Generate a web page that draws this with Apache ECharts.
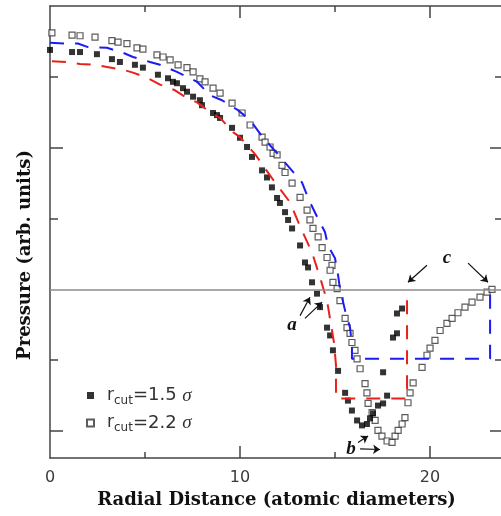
<!DOCTYPE html>
<html>
<head>
<meta charset="utf-8">
<script src="https://cdn.jsdelivr.net/npm/echarts@6/dist/echarts.min.js"></script>
<style>
html, body { margin: 0; padding: 0; background: #fff; }
#chart { width: 501px; height: 516px; }
</style>
</head>
<body>
<div id="chart"></div>
<script>
// r_cut = 1.5 sigma (filled squares)
const filledSquares = [
  [0.0, 3.38], [1.16, 3.35], [1.58, 3.35], [2.47, 3.32], [3.26, 3.25], [3.68, 3.21],
  [4.47, 3.17], [4.89, 3.13], [5.68, 3.03], [6.21, 2.98], [6.47, 2.93], [6.68, 2.91],
  [7.0, 2.84], [7.21, 2.79], [7.53, 2.72], [7.89, 2.67], [8.0, 2.60], [8.58, 2.49],
  [8.79, 2.46], [8.95, 2.42], [9.58, 2.28], [10.0, 2.14], [10.37, 2.01], [10.63, 1.87],
  [11.16, 1.68], [11.42, 1.58], [11.68, 1.44], [11.95, 1.29], [12.1, 1.22], [12.37, 1.09],
  [12.53, 0.98], [12.74, 0.86], [13.16, 0.62], [13.42, 0.38], [13.58, 0.31], [13.79, 0.10],
  [14.05, -0.06], [14.21, -0.25], [14.58, -0.54], [14.74, -0.65], [14.89, -0.86], [15.16, -1.15],
  [15.53, -1.46], [15.68, -1.57], [15.89, -1.71], [16.16, -1.85], [16.42, -1.92], [16.68, -1.90],
  [16.84, -1.82], [17.0, -1.75], [17.26, -1.64], [17.53, -1.61], [17.74, -1.50], [17.53, -1.17],
  [18.05, -0.68], [18.26, -0.62], [18.26, -0.34], [18.53, -0.27]
]

// r_cut = 2.2 sigma (open squares)
const openSquares = [
  [0.1, 3.62], [1.16, 3.59], [1.58, 3.58], [2.37, 3.56], [3.26, 3.51], [3.58, 3.49],
  [4.05, 3.47], [4.58, 3.41], [4.89, 3.39], [5.63, 3.31], [5.95, 3.28], [6.32, 3.24],
  [6.74, 3.17], [7.21, 3.13], [7.53, 3.07], [7.89, 2.97], [8.16, 2.93], [8.58, 2.84],
  [8.95, 2.77], [9.58, 2.63], [10.11, 2.49], [10.53, 2.32], [11.16, 2.15], [11.32, 2.08],
  [11.58, 2.01], [11.74, 1.92], [11.95, 1.90], [12.21, 1.75], [12.37, 1.65], [12.74, 1.50],
  [13.16, 1.30], [13.53, 1.12], [13.68, 0.98], [13.84, 0.86], [14.11, 0.74], [14.32, 0.59],
  [14.58, 0.45], [14.84, 0.34], [14.74, 0.27], [14.89, 0.10], [15.11, 0.01], [15.26, -0.16],
  [15.53, -0.41], [15.63, -0.54], [15.79, -0.62], [15.89, -0.75], [16.05, -0.86], [16.16, -0.98],
  [16.32, -1.12], [16.58, -1.33], [16.68, -1.46], [16.74, -1.61], [16.95, -1.74], [17.11, -1.85],
  [17.26, -1.99], [17.47, -2.07], [17.74, -2.14], [18.0, -2.16], [18.16, -2.07], [18.32, -1.99],
  [18.53, -1.90], [18.68, -1.81], [18.84, -1.60], [18.95, -1.46], [19.11, -1.32], [19.58, -1.10],
  [19.84, -0.93], [20.0, -0.83], [20.26, -0.72], [20.53, -0.58], [20.89, -0.48], [21.16, -0.41],
  [21.47, -0.33], [21.84, -0.25], [22.21, -0.18], [22.63, -0.11], [23.0, -0.04], [23.26, 0.0]
]

// dashed guide curves
const redCurve = [
  [0.1, 3.22], [0.9, 3.21], [1.58, 3.18], [2.37, 3.17], [3.0, 3.14], [3.84, 3.10],
  [4.37, 3.06], [5.16, 2.98], [5.79, 2.89], [6.58, 2.81], [7.21, 2.70], [7.74, 2.64],
  [8.42, 2.50], [8.95, 2.42], [9.63, 2.22], [10.0, 2.15], [10.79, 1.91], [11.68, 1.57],
  [12.63, 1.23], [13.16, 0.89], [13.79, 0.52], [14.21, 0.17], [14.58, -0.16], [14.84, -0.58],
  [14.95, -0.76], [15.05, -1.07], [15.05, -1.54], [18.79, -1.54], [18.79, -0.11]
]
const blueCurve = [
  [0.0, 3.48], [0.89, 3.47], [1.47, 3.47], [2.0, 3.42], [3.0, 3.41], [3.84, 3.34],
  [4.37, 3.28], [5.26, 3.21], [5.79, 3.17], [6.68, 3.07], [7.21, 3.0], [7.74, 2.93],
  [8.42, 2.74], [9.05, 2.67], [9.89, 2.53], [10.53, 2.39], [11.16, 2.16], [11.89, 1.94],
  [12.53, 1.74], [13.26, 1.51], [13.63, 1.26], [14.1, 1.0], [14.47, 0.81], [14.63, 0.62],
  [15.0, 0.44], [15.16, 0.20], [15.26, 0.01], [15.53, -0.30], [15.79, -0.54], [15.89, -0.79],
  [15.89, -0.98], [23.16, -0.98], [23.16, -0.01]
]

// axes
const xMin = 0
const xMax = 23.84
const yMin = -2.38
const yMax = 4
const xLabels = [0, 10, 20]
const xMajorTicks = [10, 20]
const xMinorTicks = [5, 15]
const yMajorTicks = [-2, 2]
const yMinorTicks = [-1, 1, 3]

const seriesNames = ['r_cut=1.5σ', 'r_cut=2.2σ']
const legendText = {
  'r_cut=1.5σ': '{r|r}{sub|cut}{t|=1.5 }{sig|σ}',
  'r_cut=2.2σ': '{r|r}{sub|cut}{t|=2.2 }{sig|σ}'
}

// annotation arrows [from, to] and letters
const arrows = [
  [[13.16, -0.37], [13.68, -0.11]],
  [[13.42, -0.41], [14.32, -0.18]],
  [[16.21, -2.16], [16.74, -2.07]],
  [[16.32, -2.25], [17.37, -2.26]],
  [[19.84, 0.34], [18.84, 0.10]],
  [[22.0, 0.37], [23.05, 0.10]]
]
const letters = [
  { name: 'a', coord: [12.74, -0.51] },
  { name: 'b', coord: [15.84, -2.26] },
  { name: 'c', coord: [20.89, 0.44] }
]

const axisColor = '#444'
const serif = '"Liberation Serif", "DejaVu Serif", serif'
const wideSerif = '"DejaVu Serif", serif'
const sans = '"DejaVu Sans", sans-serif'

const xAxisBase = (pos, ticks, len, withLine, labels) => ({
  type: 'value', position: pos, min: xMin, max: xMax,
  axisLine: { show: withLine, onZero: false, lineStyle: { color: axisColor, width: 1.5 } },
  axisTick: { show: true, inside: true, length: len, customValues: ticks, lineStyle: { color: axisColor, width: 1.5 } },
  axisLabel: labels ? { show: true, customValues: labels, margin: 12, color: '#3a3a3a', fontSize: 16, fontFamily: sans } : { show: false },
  splitLine: { show: false }
})

const yAxisBase = (pos, ticks, len, withLine) => ({
  type: 'value', position: pos, min: yMin, max: yMax,
  axisLine: { show: withLine, onZero: false, lineStyle: { color: axisColor, width: 1.5 } },
  axisTick: { show: true, inside: true, length: len, customValues: ticks, lineStyle: { color: axisColor, width: 1.5 } },
  axisLabel: { show: false },
  splitLine: { show: false }
})

const xAxes = [
  xAxisBase('bottom', xMajorTicks, 12, true, xLabels),
  xAxisBase('bottom', xMinorTicks, 6, false),
  xAxisBase('top', xMajorTicks, 12, true),
  xAxisBase('top', xMinorTicks, 6, false)
]
Object.assign(xAxes[0], {
  name: 'Radial Distance (atomic diameters)',
  nameLocation: 'middle',
  nameGap: 31,
  nameTextStyle: { fontFamily: wideSerif, fontWeight: 'bold', fontSize: 18, color: '#111' }
})

const yAxes = [
  yAxisBase('left', yMajorTicks, 13, true),
  yAxisBase('left', yMinorTicks, 8, false),
  yAxisBase('right', yMajorTicks, 13, true),
  yAxisBase('right', yMinorTicks, 8, false)
]
Object.assign(yAxes[0], {
  name: 'Pressure (arb. units)',
  nameLocation: 'middle',
  nameGap: 16,
  nameTextStyle: { fontFamily: wideSerif, fontWeight: 'bold', fontSize: 18, color: '#111', padding: [0, 46, 0, 0] }
})

const option = {
  animation: false,
  backgroundColor: '#fff',
  grid: { left: 50, top: 6, width: 453, height: 452, outerBoundsMode: 'none' },
  xAxis: xAxes,
  yAxis: yAxes,
  legend: {
    data: seriesNames,
    orient: 'vertical',
    left: 86,
    top: 386,
    padding: 0,
    itemWidth: 7,
    itemHeight: 7,
    itemGap: 7,
    formatter: name => legendText[name],
    textStyle: {
      color: '#333',
      rich: {
        r: { fontSize: 17, fontFamily: sans, color: '#333', padding: [0, 0, 0, 8] },
        sub: { fontSize: 12, fontFamily: sans, color: '#333', padding: [10, 0, 0, 0] },
        t: { fontSize: 18, fontFamily: sans, color: '#333' },
        sig: { fontSize: 19, fontFamily: serif, fontStyle: 'italic', color: '#333' }
      }
    }
  },
  series: [
    {
      name: 'zero',
      type: 'line',
      data: [],
      silent: true,
      markLine: {
        silent: true,
        symbol: 'none',
        label: { show: false },
        lineStyle: { color: '#8c8c8c', width: 1.5, type: 'solid' },
        data: [{ yAxis: 0 }]
      }
    },
    {
      name: 'red',
      type: 'line',
      data: redCurve,
      showSymbol: false,
      lineStyle: { color: '#e8221a', width: 2, type: [14, 11] }
    },
    {
      name: 'blue',
      type: 'line',
      data: blueCurve,
      showSymbol: false,
      lineStyle: { color: '#1c1cf0', width: 2, type: [14, 11] }
    },
    {
      name: seriesNames[1],
      type: 'scatter',
      symbol: 'rect',
      symbolSize: 6,
      data: openSquares,
      itemStyle: { color: '#fff', borderColor: '#333', borderWidth: 1.2 }
    },
    {
      name: seriesNames[0],
      type: 'scatter',
      symbol: 'rect',
      symbolSize: 6,
      data: filledSquares,
      itemStyle: { color: '#000' }
    },
    {
      name: 'notes',
      type: 'line',
      data: [],
      silent: true,
      markLine: {
        silent: true,
        symbol: ['none', 'arrow'],
        symbolSize: 7,
        label: { show: false },
        lineStyle: { color: '#111', width: 1.2, type: 'solid' },
        data: arrows.map(a => [{ coord: a[0] }, { coord: a[1] }])
      },
      markPoint: {
        silent: true,
        symbol: 'circle',
        symbolSize: 0,
        label: {
          show: true,
          formatter: '{b}',
          fontFamily: serif,
          fontStyle: 'italic',
          fontWeight: 'bold',
          fontSize: 19,
          color: '#111'
        },
        data: letters
      }
    }
  ]
}

const chart = echarts.init(document.getElementById('chart'))
chart.setOption(option)
</script>
</body>
</html>
